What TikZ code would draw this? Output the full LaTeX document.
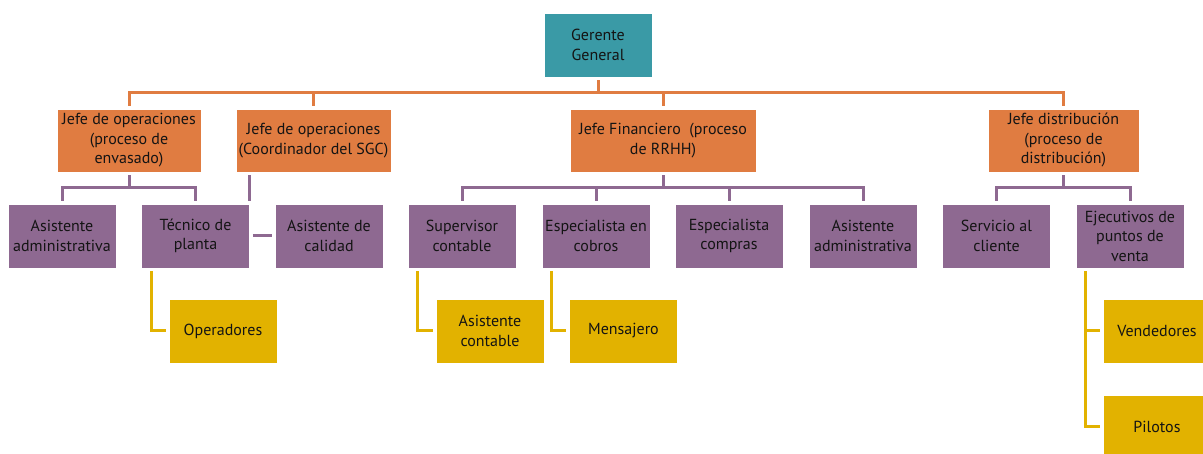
\documentclass[tikz,border=0pt]{standalone}
\usepackage{fontspec}
\setmainfont{PT Sans}
\definecolor{cteal}{RGB}{58,154,166}
\definecolor{corange}{RGB}{224,124,65}
\definecolor{cpurple}{RGB}{142,105,145}
\definecolor{cyellow}{RGB}{226,178,0}
\definecolor{ctext}{RGB}{20,20,20}
\tikzset{
  box/.style={draw=white, line width=0.8pt, inner sep=0pt, align=center, text=ctext,
    font=\fontsize{16}{19.5}\selectfont},
  gbox/.style={box, fill=cteal, minimum width=108pt, minimum height=64pt},
  obox/.style={box, fill=corange, minimum height=63pt},
  pbox/.style={box, fill=cpurple, minimum width=108pt, minimum height=64pt},
  ybox/.style={box, fill=cyellow, minimum width=108pt, minimum height=64pt},
  oline/.style={draw=corange, line width=3pt},
  pline/.style={draw=cpurple, line width=3pt},
  yline/.style={draw=cyellow, line width=3pt},
  gap/.style={shorten <=3pt, shorten >=3pt}
}
\begin{document}
\begin{tikzpicture}[x=1pt,y=-1pt]
\useasboundingbox (0,0) rectangle (1203,454);
% level 1
\node[gbox] (G) at (598,45) {Gerente\\General};
% level 2
\node[obox, minimum width=144pt] (J1) at (129,140.5) {Jefe de operaciones\\(proceso de\\envasado)};
\node[obox, minimum width=155pt] (J2) at (313.5,140.5) {Jefe de operaciones\\(Coordinador del SGC)};
\node[obox, minimum width=186pt] (JF) at (663,140.5) {Jefe Financiero\ \ (proceso\\de RRHH)};
\node[obox, minimum width=151pt] (JD) at (1063.5,140.5) {Jefe distribución\\(proceso de\\distribución)};
% level 3
\node[pbox] (AA1) at (62,236) {Asistente\\administrativa};
\node[pbox] (TP) at (195.5,236) {Técnico de\\planta};
\node[pbox] (AC) at (329,236) {Asistente de\\calidad};
\node[pbox] (SC) at (462,236) {Supervisor\\contable};
\node[pbox] (EC) at (596,236) {Especialista en\\cobros};
\node[pbox] (ECo) at (729,236) {Especialista\\compras};
\node[pbox] (AA2) at (863,236) {Asistente\\administrativa};
\node[pbox] (SvC) at (996.5,236) {Servicio al\\cliente};
\node[pbox] (EJ) at (1130,236) {Ejecutivos de\\puntos de\\venta};
% level 4
\node[ybox] (OP) at (223,331) {Operadores};
\node[ybox] (ACo) at (490,331) {Asistente\\contable};
\node[ybox] (MS) at (623.5,331) {Mensajero};
\node[ybox] (VE) at (1157,331) {Vendedores};
\node[ybox] (PI) at (1157,427) {Pilotos};
% orange connectors
\coordinate (bus) at (598,93);
\draw[oline, shorten <=3pt] (G.south) -- (bus);
\draw[oline, shorten <=3pt, shorten >=3pt] (J1.north) |- (bus) -| (JD.north);
\draw[oline, shorten <=3pt] (J2.north) -- (J2.north |- bus);
\draw[oline, shorten <=3pt] (JF.north) -- (JF.north |- bus);
% purple connectors
\coordinate (b1) at (129,188);
\draw[pline, shorten <=3pt] (J1.south) -- (b1);
\draw[pline, shorten <=3pt, shorten >=3pt] (AA1.north) |- (b1) -| (TP.north);
\draw[pline, gap] (J2.south -| TP.north east) -- (TP.north east);
\draw[pline, gap] (TP.east) -- (AC.west);
\coordinate (b2) at (663,188);
\draw[pline, shorten <=3pt] (JF.south) -- (b2);
\draw[pline, shorten <=3pt, shorten >=3pt] (SC.north) |- (b2) -| (AA2.north);
\draw[pline, shorten <=3pt] (EC.north) -- (EC.north |- b2);
\draw[pline, shorten <=3pt] (ECo.north) -- (ECo.north |- b2);
\coordinate (b3) at (1063.5,188);
\draw[pline, shorten <=3pt] (JD.south) -- (b3);
\draw[pline, shorten <=3pt, shorten >=3pt] (SvC.north) |- (b3) -| (EJ.north);
% yellow connectors
\draw[yline, gap] ([xshift=10.5pt]TP.south west) |- (OP.west);
\draw[yline, gap] ([xshift=10pt]SC.south west) |- (ACo.west);
\draw[yline, gap] ([xshift=10pt]EC.south west) |- (MS.west);
\draw[yline, gap] ([xshift=10pt]EJ.south west) |- (PI.west);
\draw[yline, shorten >=3pt] ([xshift=10pt]EJ.south west |- VE.west) -- (VE.west);
\end{tikzpicture}
\end{document}
